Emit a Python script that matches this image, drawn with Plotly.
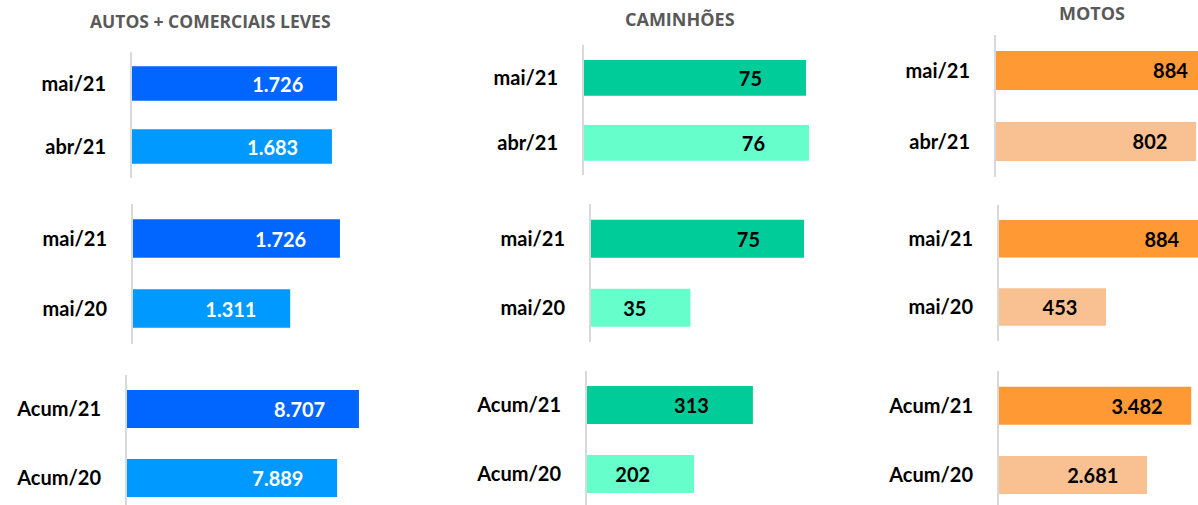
import plotly.graph_objects as go

# ---------------- data ----------------
cats_month = ["mai/21", "abr/21"]
cats_year = ["mai/21", "mai/20"]
cats_acum = ["Acum/21", "Acum/20"]

autos_month = [1726, 1683]
autos_year = [1726, 1311]
autos_acum = [8707, 7889]

cam_month = [75, 76]
cam_year = [75, 35]
cam_acum = [313, 202]

motos_month = [884, 802]
motos_year = [884, 453]
motos_acum = [3482, 2681]

titles = ["AUTOS + COMERCIAIS LEVES", "CAMINHÕES", "MOTOS"]

# ---------------- layout / style ----------------
W, H = 1198, 505
FONT = "Lato"

columns = [
    dict(title=titles[0], colors=["#0066FF", "#0099FF"], textcolor="white", pad=6,
         right=400, tx=210, ty=21, tsize=17.5,
         series=[(cats_month, autos_month), (cats_year, autos_year), (cats_acum, autos_acum)],
         geo=[(132, 52, 63, 0.1188), (133, 203.5, 70, 0.1199), (127, 374.5, 69, 0.02664)]),
    dict(title=titles[1], colors=["#00CC99", "#66FFCC"], textcolor="black", pad=8,
         right=840, tx=680, ty=19, tsize=18,
         series=[(cats_month, cam_month), (cats_year, cam_year), (cats_acum, cam_acum)],
         geo=[(584, 45.4, 65, 2.96), (591, 204.3, 69, 2.84), (587, 370.5, 69, 0.530)]),
    dict(title=titles[2], colors=["#FF9933", "#F9C091"], textcolor="black", pad=5,
         right=1198, tx=1092, ty=13, tsize=18,
         series=[(cats_month, motos_month), (cats_year, motos_year), (cats_acum, motos_acum)],
         geo=[(996, 35, 71, 0.2494), (999, 204.7, 68.2, 0.2362), (999, 371.2, 69.2, 0.0552)]),
]

fig = go.Figure()
layout_axes = {}
annotations = []
idx = 0
for col in columns:
    annotations.append(dict(
        text="<b>%s</b>" % col["title"], xref="paper", yref="paper",
        x=col["tx"] / W, y=1 - col["ty"] / H, xanchor="center", yanchor="middle",
        showarrow=False, font=dict(family="Open Sans", size=col["tsize"], color="#595959")))
    for (cats, vals), (axx, top, sp, scale) in zip(col["series"], col["geo"]):
        idx += 1
        suffix = "" if idx == 1 else str(idx)
        bottom = min(top + 2 * sp, H)
        fig.add_trace(go.Bar(
            x=vals, y=cats, orientation="h",
            xaxis="x" + suffix, yaxis="y" + suffix,
            marker=dict(color=col["colors"], line=dict(width=0)),
            width=0.55,
            texttemplate="<b>%{x:,}</b>" + "\u00a0" * col["pad"],
            textposition="inside", insidetextanchor="end", textangle=0,
            insidetextfont=dict(family=FONT, size=20, color=col["textcolor"]),
            hoverinfo="skip", showlegend=False, cliponaxis=True,
        ))
        layout_axes["xaxis" + suffix] = dict(
            domain=[axx / W, col["right"] / W], range=[0, (col["right"] - axx) / scale],
            visible=False, showgrid=False, zeroline=False, fixedrange=True,
            anchor="y" + suffix)
        layout_axes["yaxis" + suffix] = dict(
            domain=[1 - bottom / H, 1 - top / H],
            range=[(bottom - top) / sp - 0.5, -0.5],
            type="category", categoryorder="array", categoryarray=cats,
            showline=True, linecolor="#D9D9D9", linewidth=2,
            showgrid=False, zeroline=False,
            ticks="outside", ticklen=20, tickcolor="rgba(0,0,0,0)",
            tickfont=dict(family=FONT, size=20, color="#000000"),
            tickprefix="<b>", ticksuffix="</b>",
            anchor="x" + suffix, fixedrange=True)

fig.update_layout(
    width=W, height=H, margin=dict(l=0, r=0, t=0, b=0),
    paper_bgcolor="white", plot_bgcolor="rgba(0,0,0,0)",
    separators=",.", annotations=annotations, bargap=0.45,
    **layout_axes)

fig.write_html("out.html", config=dict(displayModeBar=False),
               post_script="document.body.style.margin='0';document.body.style.overflow='hidden';")
